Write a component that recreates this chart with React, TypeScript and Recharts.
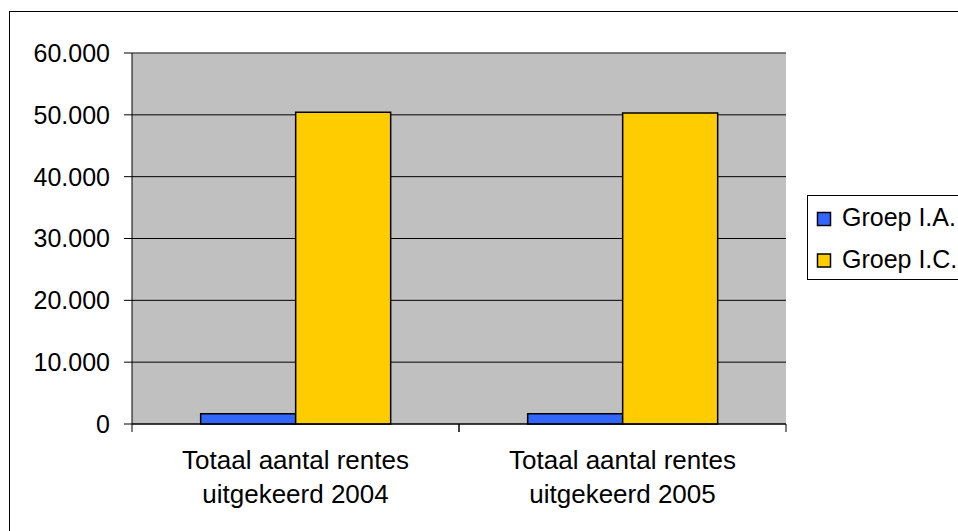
import React from "react";
import {
  BarChart,
  Bar,
  XAxis,
  YAxis,
  CartesianGrid,
  ReferenceLine,
} from "recharts";

// Categories and series values
const categories = [
  "Totaal aantal rentes uitgekeerd 2004",
  "Totaal aantal rentes uitgekeerd 2005",
];
const groepIA = [1650, 1650];
const groepIC = [50400, 50300];
const yTicks = [0, 10000, 20000, 30000, 40000, 50000, 60000];

const series = [
  { key: "ia", name: "Groep I.A.", color: "#3366FF", values: groepIA },
  { key: "ic", name: "Groep I.C.", color: "#FFCC00", values: groepIC },
];

const data = categories.map((name, i) => {
  const row: Record<string, string | number> = { name };
  series.forEach((s) => {
    row[s.key] = s.values[i];
  });
  return row;
});

const FONT = "'Liberation Sans', Arial, sans-serif";
const TICK_LEN = 8;

const formatThousands = (v: number) =>
  v.toString().replace(/\B(?=(\d{3})+(?!\d))/g, ".");

// Category label (first three words on line one, the rest on line two),
// plus tick marks at the category boundaries hanging below the axis line
const CategoryTick = (props: any) => {
  const { x, y, payload, width, visibleTicksCount } = props;
  const band = width / Math.max(1, visibleTicksCount);
  const words = String(payload.value).split(" ");
  const lines = [words.slice(0, 3).join(" "), words.slice(3).join(" ")];
  return (
    <g>
      {[x - band / 2, x + band / 2].map((bx, i) => (
        <line
          key={i}
          x1={bx}
          x2={bx}
          y1={y}
          y2={y + TICK_LEN}
          stroke="#000"
          strokeWidth={1}
        />
      ))}
      <text
        x={x}
        y={y}
        textAnchor="middle"
        fontFamily={FONT}
        fontSize={26}
        fill="#000"
      >
        {lines.map((ln, i) => (
          <tspan key={i} x={x} dy={i === 0 ? 45 : 34}>
            {ln}
          </tspan>
        ))}
      </text>
    </g>
  );
};

export default function App() {
  return (
    <div
      style={{
        position: "absolute",
        left: 0,
        top: 0,
        width: 958,
        height: 531,
        overflow: "hidden",
        background: "#fff",
      }}
    >
      <div
        style={{
          position: "absolute",
          left: 9,
          top: 11,
          width: 1100,
          height: 700,
          border: "1px solid #000",
        }}
      />
      <div style={{ position: "absolute", left: 0, top: 0 }}>
        <BarChart
          width={958}
          height={531}
          data={data}
          margin={{ top: 53, right: 172, bottom: 0, left: 0 }}
          barCategoryGap="21%"
          barGap={0}
        >
          <CartesianGrid
            vertical={false}
            stroke="#000"
            strokeWidth={1}
            fill="#C0C0C0"
            fillOpacity={1}
          />
          <XAxis
            xAxisId="edges"
            type="number"
            domain={[0, 2]}
            hide
          />
          <XAxis
            dataKey="name"
            height={107}
            tickSize={0}
            tickMargin={0}
            tickLine={false}
            axisLine={{ stroke: "#000", strokeWidth: 1 }}
            tick={CategoryTick}
            interval={0}
          />
          <YAxis
            width={132}
            domain={[0, 60000]}
            ticks={yTicks}
            tickFormatter={formatThousands}
            tickSize={TICK_LEN}
            tickMargin={14}
            axisLine={{ stroke: "#000", strokeWidth: 1 }}
            tickLine={{ stroke: "#000", strokeWidth: 1 }}
            tick={{ fill: "#000", fontSize: 25, fontFamily: FONT }}
            interval={0}
          />
          <ReferenceLine y={60000} stroke="#808080" strokeWidth={1} />
          <ReferenceLine
            x={2}
            xAxisId="edges"
            stroke="#808080"
            strokeWidth={1}
          />
          {series.map((s) => (
            <Bar
              key={s.key}
              dataKey={s.key}
              name={s.name}
              fill={s.color}
              stroke="#000"
              strokeWidth={1.5}
              isAnimationActive={false}
            />
          ))}
        </BarChart>
      </div>
      <svg
        width={958}
        height={531}
        style={{ position: "absolute", left: 0, top: 0, pointerEvents: "none" }}
      >
        <rect
          x={807.5}
          y={195.5}
          width={200}
          height={84}
          fill="#fff"
          stroke="#000"
          strokeWidth={1}
        />
        {series.map((s, i) => (
          <g key={s.key}>
            <rect
              x={817.5}
              y={212.5 + i * 41.5}
              width={13}
              height={13}
              fill={s.color}
              stroke="#000"
              strokeWidth={1.5}
            />
            <text
              x={842}
              y={226 + i * 41.5}
              fontFamily={FONT}
              fontSize={25}
              fill="#000"
            >
              {s.name}
            </text>
          </g>
        ))}
      </svg>
    </div>
  );
}
